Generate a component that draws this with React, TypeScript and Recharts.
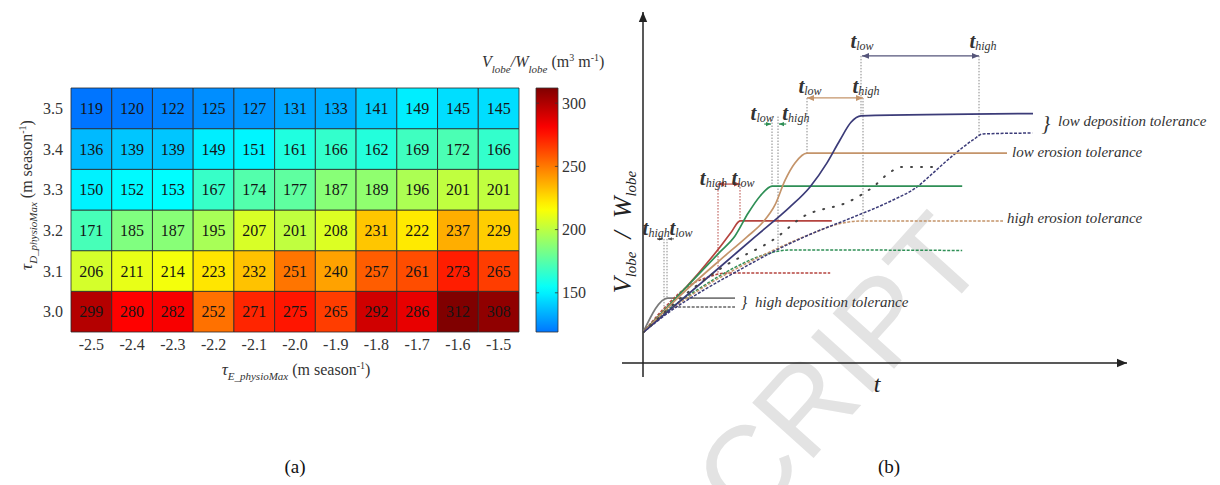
import {
  ScatterChart,
  Scatter,
  LineChart,
  Line,
  XAxis,
  YAxis,
  ReferenceArea,
  ReferenceLine,
  ReferenceDot,
} from 'recharts';

// ---- panel (a): heatmap ----
const tauE = ['-2.5', '-2.4', '-2.3', '-2.2', '-2.1', '-2.0', '-1.9', '-1.8', '-1.7', '-1.6', '-1.5'];
const tauD = ['3.0', '3.1', '3.2', '3.3', '3.4', '3.5'];

// Vlobe/Wlobe per tauD row, left to right along tauE
const row30 = [299, 280, 282, 252, 271, 275, 265, 292, 286, 312, 308];
const row31 = [206, 211, 214, 223, 232, 251, 240, 257, 261, 273, 265];
const row32 = [171, 185, 187, 195, 207, 201, 208, 231, 222, 237, 229];
const row33 = [150, 152, 153, 167, 174, 177, 187, 189, 196, 201, 201];
const row34 = [136, 139, 139, 149, 151, 161, 166, 162, 169, 172, 166];
const row35 = [119, 120, 122, 125, 127, 131, 133, 141, 149, 145, 145];
const rows = [row30, row31, row32, row33, row34, row35];

const cbTicks = [150, 200, 250, 300];
const cbMin = 119;
const cbMax = 312;

// ---- panel (b): schematic curves, [t, V] in arbitrary units ----
const greySolid = [[0, 1.05], [0.62, 2.24], [2.3, 2.24]];
const greyDashed = [[0, 1.05], [0.4, 1.6], [0.75, 1.93], [2.3, 1.93]];
const redSolid = [[0, 1.05], [1.925, 4.0], [2.2, 4.5], [2.43, 4.9], [4.72, 4.9]];
const redDashed = [[0, 1.05], [0.5, 1.85], [1.1, 2.62], [1.6, 2.95], [2.1, 3.1], [4.68, 3.1]];
const greenSolid = [[0, 1.05], [1.925, 3.83], [2.3, 4.38], [2.63, 5.17], [2.93, 5.76], [3.23, 6.1], [7.98, 6.1]];
const greenDashed = [[0, 1.05], [0.7, 1.9], [1.5, 2.65], [2.3, 3.3], [3.0, 3.72], [3.7, 3.9], [7.98, 3.88]];
const brownSolid = [[0, 1.05], [0.95, 2.35], [1.925, 3.55], [2.6, 4.35], [3.0, 4.86], [3.3, 5.45], [3.55, 6.3], [3.8, 6.9], [4.1, 7.24], [9.1, 7.24]];
const brownDashed = [[0, 1.05], [0.7, 1.85], [1.5, 2.6], [2.4, 3.3], [3.2, 3.85], [4.2, 4.45], [4.9, 4.8], [5.5, 4.9], [9.0, 4.9]];
const navySolid = [[0, 1.05], [1.925, 3.31], [2.8, 4.35], [3.675, 5.38], [4.175, 6.07], [4.6, 6.9], [4.925, 7.69], [5.2, 8.3], [5.45, 8.52], [9.75, 8.6]];
const navyDashed = [[0, 1.05], [0.7, 1.8], [1.5, 2.5], [2.4, 3.2], [3.2, 3.8], [4.2, 4.45], [5.2, 5.0], [6.25, 5.62], [6.85, 6.07], [7.25, 6.55], [7.7, 7.1], [8.25, 7.69], [8.5, 7.9], [9.73, 7.93]];
const dotted = [[0, 1.05], [1.0, 2.3], [2.0, 3.31], [3.35, 4.34], [3.95, 5.0], [5.2, 5.6], [5.75, 6.07], [6.2, 6.6], [6.45, 6.76], [7.25, 6.76]];

const JET_FLOOR = 58; // colour scale starts below the data so the minimum sits on blue

function jet(v: number) {
  const s = (v - JET_FLOOR) / (cbMax - JET_FLOOR);
  const ch = (c: number) => Math.round(255 * Math.min(1, Math.max(0, 1.5 - Math.abs(4 * s - c))));
  return `rgb(${ch(3)},${ch(2)},${ch(1)})`;
}

const pts = (a: number[][]) => a.map(([t, v]) => ({ t, v }));

const GREY = '#7a7a7a';
const RED = '#b5443f';
const GREEN = '#2f8f56';
const BROWN = '#c4946a';
const NAVY = '#3b3b78';
const TXT = '#333';

function CellText(p: any) {
  return (
    <text x={p.cx} y={p.cy} dy="0.35em" textAnchor="middle" fontSize={16} fill="#151515">
      {p.payload.v}
    </text>
  );
}

function Heatmap() {
  const cells = rows.flatMap((row, j) => row.map((v, i) => ({ x: i, y: j, v })));
  return (
    <ScatterChart width={600} height={485} margin={{ top: 88, right: 81, bottom: 123, left: 31 }}>
      <XAxis
        type="number"
        dataKey="x"
        domain={[-0.5, 10.5]}
        ticks={tauE.map((_, i) => i)}
        tickFormatter={(i) => tauE[i]}
        interval={0}
        height={30}
        tickSize={0}
        tickMargin={7}
        axisLine={false}
        tickLine={false}
        tick={{ fontSize: 16, fill: TXT }}
      />
      <YAxis
        type="number"
        dataKey="y"
        domain={[-0.5, 5.5]}
        ticks={tauD.map((_, j) => j)}
        tickFormatter={(j) => tauD[j]}
        interval={0}
        width={40}
        tickSize={0}
        tickMargin={8}
        axisLine={false}
        tickLine={false}
        tick={{ fontSize: 16, fill: TXT }}
      />
      {cells.map((c) => (
        <ReferenceArea
          key={`${c.x}-${c.y}`}
          x1={c.x - 0.5}
          x2={c.x + 0.5}
          y1={c.y - 0.5}
          y2={c.y + 0.5}
          fill={jet(c.v)}
          fillOpacity={1}
          stroke="#2a2a2a"
          strokeWidth={0.8}
        />
      ))}
      <Scatter data={cells} isAnimationActive={false} shape={CellText} />
      <text x={296} y={375} textAnchor="middle" fontSize={16} fill={TXT}>
        <tspan fontStyle="italic" fontSize={17}>τ</tspan>
        <tspan fontStyle="italic" fontSize={11} dy={5}>E_physioMax</tspan>
        <tspan dy={-5}> (m season</tspan>
        <tspan fontSize={10} dy={-6}>-1</tspan>
        <tspan dy={6}>)</tspan>
      </text>
      <text x={32} y={195} transform="rotate(-90, 32, 195)" textAnchor="middle" fontSize={16} fill={TXT}>
        <tspan fontStyle="italic" fontSize={17}>τ</tspan>
        <tspan fontStyle="italic" fontSize={11} dy={5}>D_physioMax</tspan>
        <tspan dy={-5}> (m season</tspan>
        <tspan fontSize={10} dy={-6}>-1</tspan>
        <tspan dy={6}>)</tspan>
      </text>
      <text x={295} y={473} textAnchor="middle" fontSize={19} fill="#111">(a)</text>
    </ScatterChart>
  );
}

function ColorBar() {
  const steps = Array.from({ length: 33 }, (_, k) => cbMax - (k * (cbMax - cbMin)) / 32);
  const ends = [
    { x: 0.5, v: cbMin },
    { x: 0.5, v: cbMax },
  ];
  return (
    <ScatterChart width={200} height={485} margin={{ top: 88, right: 30, bottom: 153, left: 96 }}>
      <defs>
        <linearGradient id="jetBar" x1="0" y1="0" x2="0" y2="1">
          {steps.map((v) => (
            <stop key={v} offset={(cbMax - v) / (cbMax - cbMin)} stopColor={jet(v)} />
          ))}
        </linearGradient>
      </defs>
      <XAxis type="number" dataKey="x" domain={[0, 1]} hide />
      <YAxis
        type="number"
        dataKey="v"
        orientation="right"
        domain={[cbMin, cbMax]}
        ticks={cbTicks}
        width={52}
        tickSize={0}
        tickMargin={4}
        axisLine={false}
        tickLine={false}
        tick={{ fontSize: 16, fill: TXT }}
      />
      <ReferenceArea x1={0} x2={1} y1={cbMin} y2={cbMax} fill="url(#jetBar)" fillOpacity={1} stroke="#333" strokeWidth={0.8} />
      {cbTicks.map((v) => (
        <ReferenceLine key={`l${v}`} segment={[{ x: 0, y: v }, { x: 0.14, y: v }]} stroke="#333" strokeWidth={0.8} />
      ))}
      {cbTicks.map((v) => (
        <ReferenceLine key={`r${v}`} segment={[{ x: 0.86, y: v }, { x: 1, y: v }]} stroke="#333" strokeWidth={0.8} />
      ))}
      <Scatter data={ends} isAnimationActive={false} shape={() => <g />} />
      <text x={42} y={67} fontSize={16} fill={TXT}>
        <tspan fontStyle="italic">V</tspan>
        <tspan fontStyle="italic" fontSize={11} dy={6}>lobe</tspan>
        <tspan fontStyle="italic" dy={-6}>/W</tspan>
        <tspan fontStyle="italic" fontSize={11} dy={6}>lobe</tspan>
        <tspan dy={-6}> (m</tspan>
        <tspan fontSize={10} dy={-6}>3</tspan>
        <tspan dy={6}> m</tspan>
        <tspan fontSize={10} dy={-6}>-1</tspan>
        <tspan dy={6}>)</tspan>
      </text>
    </ScatterChart>
  );
}

// arrow drawn along a ReferenceLine segment; head at the end (and the start if both)
function arrow(color: string, both: boolean, size = 6, width = 1.2) {
  return (p: any) => {
    const { x1, y1, x2, y2 } = p;
    const head = (xa: number, ya: number, xb: number, yb: number) => {
      const a = Math.atan2(yb - ya, xb - xa);
      const w = size * 0.42;
      const bx = xb - size * Math.cos(a);
      const by = yb - size * Math.sin(a);
      return `${xb},${yb} ${bx - w * Math.sin(a)},${by + w * Math.cos(a)} ${bx + w * Math.sin(a)},${by - w * Math.cos(a)}`;
    };
    return (
      <g>
        <line x1={x1} y1={y1} x2={x2} y2={y2} stroke={color} strokeWidth={width} />
        <polygon points={head(x1, y1, x2, y2)} fill={color} />
        {both && <polygon points={head(x2, y2, x1, y1)} fill={color} />}
      </g>
    );
  };
}

function TLabel(sub: string) {
  return (p: any) => (
    <text x={p.cx} y={p.cy} textAnchor="middle" fill={TXT} fontStyle="italic">
      <tspan fontSize={21} fontWeight="bold">t</tspan>
      <tspan fontSize={12} dy={2}>{sub}</tspan>
    </text>
  );
}

function Note(text: string, size = 15, anchor: 'start' | 'middle' = 'start') {
  return (p: any) => (
    <text x={p.cx} y={p.cy} textAnchor={anchor} fill={TXT} fontStyle="italic" fontSize={size}>
      {text}
    </text>
  );
}

const curveStyles: [number[][], string, string | undefined][] = [
  [greySolid, GREY, undefined],
  [greyDashed, '#666', '3 1.5'],
  [redDashed, RED, '3 1.5'],
  [greenDashed, GREEN, '3 1.5'],
  [brownDashed, BROWN, '3 1.5'],
  [navyDashed, NAVY, '3 1.5'],
  [redSolid, RED, undefined],
  [greenSolid, GREEN, undefined],
  [brownSolid, BROWN, undefined],
  [navySolid, NAVY, undefined],
];

// vertical dotted guides: [t, top V, bottom V, colour]
const guides: [number, number, number, string][] = [
  [0.525, 4.28, 1.93, '#888'],
  [0.6, 4.28, 2.24, '#888'],
  [1.875, 6.17, 3.1, RED],
  [2.425, 6.17, 4.9, RED],
  [3.225, 8.5, 6.1, '#888'],
  [3.375, 8.5, 3.9, '#888'],
  [4.1, 9.14, 7.24, '#888'],
  [5.5, 9.14, 4.9, '#888'],
  [5.45, 10.59, 8.52, '#888'],
  [8.4, 10.59, 7.86, '#888'],
];

function Schematic() {
  return (
    <LineChart width={640} height={485} margin={{ top: 15, right: 97, bottom: 122, left: 63 }}>
      <XAxis type="number" dataKey="t" domain={[0, 12]} hide allowDataOverflow />
      <YAxis type="number" domain={[0, 12]} hide allowDataOverflow />
      <text
        x={410}
        y={262}
        transform="rotate(-48, 410, 262)"
        textAnchor="end"
        fontSize={120}
        fontFamily='"Liberation Sans", Arial, sans-serif'
        fill="#e3e3e3"
      >
        SCRIPT
      </text>
      <ReferenceLine segment={[{ x: 0, y: -0.48 }, { x: 0, y: 12.1 }]} ifOverflow="visible" shape={arrow('#222', false, 10, 1.5)} />
      <ReferenceLine segment={[{ x: -0.525, y: 0 }, { x: 12.1, y: 0 }]} ifOverflow="visible" shape={arrow('#222', false, 10, 1.5)} />
      {guides.map(([t, top, bot, c]) => (
        <ReferenceLine key={`g${t}`} segment={[{ x: t, y: top }, { x: t, y: bot }]} stroke={c} strokeWidth={1} strokeDasharray="1.5 1.5" />
      ))}
      {curveStyles.map(([d, c, dash], k) => (
        <Line
          key={k}
          data={pts(d)}
          dataKey="v"
          type="monotone"
          stroke={c}
          strokeWidth={dash ? 1.5 : 1.7}
          strokeDasharray={dash}
          dot={false}
          activeDot={false}
          isAnimationActive={false}
        />
      ))}
      <Line
        data={pts(dotted)}
        dataKey="v"
        type="monotone"
        stroke="#444"
        strokeWidth={2}
        strokeDasharray="1 9"
        strokeLinecap="round"
        dot={false}
        activeDot={false}
        isAnimationActive={false}
      />
      {/* interval arrows */}
      <ReferenceLine segment={[{ x: 0.35, y: 4.28 }, { x: 0.5, y: 4.28 }]} shape={arrow('#555', false, 4, 1)} />
      <ReferenceLine segment={[{ x: 0.775, y: 4.28 }, { x: 0.625, y: 4.28 }]} shape={arrow('#555', false, 4, 1)} />
      <ReferenceLine segment={[{ x: 1.875, y: 6.17 }, { x: 2.425, y: 6.17 }]} shape={arrow(RED, true, 6)} />
      <ReferenceLine segment={[{ x: 3.03, y: 8.24 }, { x: 3.2, y: 8.24 }]} shape={arrow(GREEN, false, 5)} />
      <ReferenceLine segment={[{ x: 3.58, y: 8.24 }, { x: 3.4, y: 8.24 }]} shape={arrow(GREEN, false, 5)} />
      <ReferenceLine segment={[{ x: 4.1, y: 9.14 }, { x: 5.5, y: 9.14 }]} shape={arrow(BROWN, true, 7)} />
      <ReferenceLine segment={[{ x: 5.475, y: 10.59 }, { x: 8.4, y: 10.59 }]} shape={arrow('#55557a', true, 7)} />
      {/* t labels */}
      <ReferenceDot x={0.33} y={4.41} r={0} shape={TLabel('high')} />
      <ReferenceDot x={0.95} y={4.41} r={0} shape={TLabel('low')} />
      <ReferenceDot x={1.76} y={6.14} r={0} shape={TLabel('high')} />
      <ReferenceDot x={2.5} y={6.14} r={0} shape={TLabel('low')} />
      <ReferenceDot x={2.98} y={8.38} r={0} shape={TLabel('low')} />
      <ReferenceDot x={3.82} y={8.38} r={0} shape={TLabel('high')} />
      <ReferenceDot x={4.175} y={9.31} r={0} shape={TLabel('low')} />
      <ReferenceDot x={5.575} y={9.31} r={0} shape={TLabel('high')} />
      <ReferenceDot x={5.475} y={10.86} r={0} shape={TLabel('low')} />
      <ReferenceDot x={8.5} y={10.86} r={0} shape={TLabel('high')} />
      {/* tolerance notes */}
      <ReferenceDot x={10.075} y={8.02} r={0} shape={Note('}', 22, 'middle')} />
      <ReferenceDot x={10.375} y={8.17} r={0} shape={Note('low deposition tolerance')} />
      <ReferenceDot x={9.225} y={7.1} r={0} shape={Note('low erosion tolerance')} />
      <ReferenceDot x={9.1} y={4.83} r={0} shape={Note('high erosion tolerance')} />
      <ReferenceDot x={2.525} y={1.9} r={0} shape={Note('}', 16, 'middle')} />
      <ReferenceDot x={2.8} y={1.93} r={0} shape={Note('high deposition tolerance')} />
      {/* axis titles */}
      <text x={51} y={232} transform="rotate(-90, 51, 232)" textAnchor="middle" fill="#222" fontStyle="italic" fontSize={26}>
        <tspan>V</tspan>
        <tspan fontSize={15} dy={5}>lobe</tspan>
        <tspan dy={-5}>{'\u2002/\u2002'}W</tspan>
        <tspan fontSize={15} dy={5}>lobe</tspan>
      </text>
      <text x={297} y={392} textAnchor="middle" fill="#222" fontStyle="italic" fontSize={24}>t</text>
      <text x={309} y={473} textAnchor="middle" fontSize={19} fill="#111">(b)</text>
    </LineChart>
  );
}

export default function App() {
  return (
    <div
      style={{
        position: 'absolute',
        left: 0,
        top: 0,
        width: 1220,
        height: 485,
        background: '#fff',
        overflow: 'hidden',
        fontFamily: '"Liberation Serif", "Times New Roman", serif',
      }}
    >
      <div style={{ position: 'absolute', left: 0, top: 0 }}>
        <Heatmap />
      </div>
      <div style={{ position: 'absolute', left: 440, top: 0 }}>
        <ColorBar />
      </div>
      <div style={{ position: 'absolute', left: 580, top: 0 }}>
        <Schematic />
      </div>
    </div>
  );
}
